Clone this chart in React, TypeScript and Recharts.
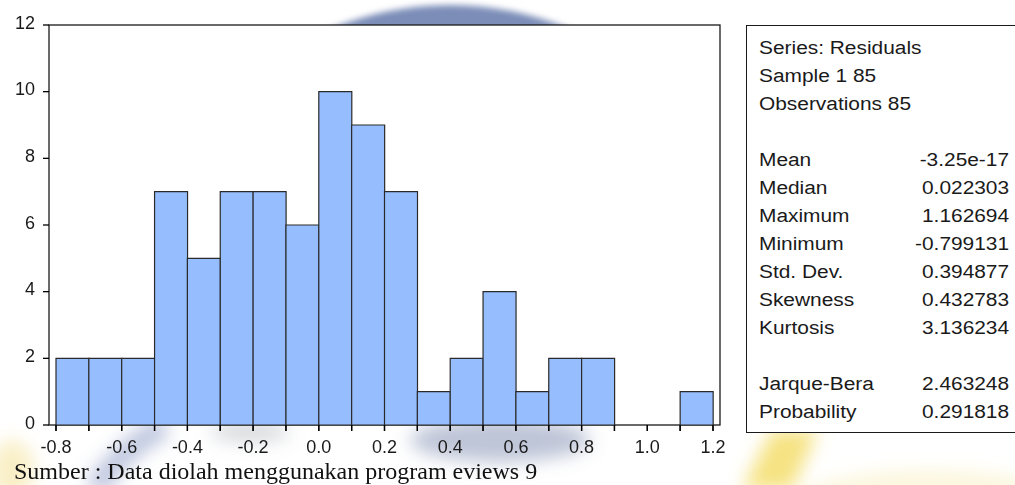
import React from 'react';
import { BarChart, Bar, XAxis, YAxis, CartesianGrid, usePlotArea } from 'recharts';

// residual histogram, bin width 0.1
const binStarts = [-0.8, -0.7, -0.6, -0.5, -0.4, -0.3, -0.2, -0.1, 0.0, 0.1, 0.2, 0.3, 0.4, 0.5, 0.6, 0.7, 0.8, 0.9, 1.0, 1.1];
const counts = [2, 2, 2, 7, 5, 7, 7, 6, 10, 9, 7, 1, 2, 4, 1, 2, 2, 0, 0, 1];
const binEdges = [-0.8, -0.7, -0.6, -0.5, -0.4, -0.3, -0.2, -0.1, 0.0, 0.1, 0.2, 0.3, 0.4, 0.5, 0.6, 0.7, 0.8, 0.9, 1.0, 1.1, 1.2];
const edgeLabels = ['-0.8', '', '-0.6', '', '-0.4', '', '-0.2', '', '0.0', '', '0.2', '', '0.4', '', '0.6', '', '0.8', '', '1.0', '', '1.2'];
const yTicks = [0, 2, 4, 6, 8, 10, 12];

const statLabels = ['Mean', 'Median', 'Maximum', 'Minimum', 'Std. Dev.', 'Skewness', 'Kurtosis'];
const statValues = ['-3.25e-17', '0.022303', '1.162694', '-0.799131', '0.394877', '0.432783', '3.136234'];
const testLabels = ['Jarque-Bera', 'Probability'];
const testValues = ['2.463248', '0.291818'];

const data = binStarts.map((s, i) => ({ bin: i, mid: s + 0.05, count: counts[i] }));

const FONT = '"Liberation Sans", Arial, sans-serif';
const INK = '#1a1a1a';
const X_PAD = 7;

function Frame() {
    const p = usePlotArea();
    if (!p) return null;
    return <rect x={p.x} y={p.y} width={p.width} height={p.height} fill="none" stroke={INK} strokeWidth={1.3} />;
}

// small marks hanging under the axis at every bin edge
function EdgeMarks() {
    const p = usePlotArea();
    if (!p) return null;
    const lo = binEdges[0];
    const hi = binEdges[binEdges.length - 1];
    const bottom = p.y + p.height;
    return (
        <g>
            {binEdges.map((e) => {
                const x = p.x + X_PAD + ((e - lo) / (hi - lo)) * (p.width - 2 * X_PAD);
                return <line key={e} x1={x} y1={bottom} x2={x} y2={bottom + 6} stroke="#000" strokeWidth={1.3} />;
            })}
        </g>
    );
}

function EdgeTick(props: any) {
    const { x, y, index } = props;
    const label = edgeLabels[index] ?? '';
    if (!label) return null;
    return (
        <text x={x} y={y + 20} textAnchor="middle" fontSize={18} fontFamily={FONT} fill={INK}>
            {label}
        </text>
    );
}

function CountTick(props: any) {
    const { x, y, payload } = props;
    return (
        <text x={x - 6} y={y + 3.5} textAnchor="end" fontSize={18} fontFamily={FONT} fill={INK}>
            {payload.value}
        </text>
    );
}

// faded logo showing through behind the figure
function Watermark() {
    return (
        <svg width={1015} height={485} style={{ position: 'absolute', left: 0, top: 0 }}>
            <defs>
                <filter id="wmSoft" x="-20%" y="-20%" width="140%" height="140%">
                    <feGaussianBlur stdDeviation="3" />
                </filter>
                <filter id="wmBlur" x="-50%" y="-50%" width="200%" height="200%">
                    <feGaussianBlur stdDeviation="9" />
                </filter>
                <clipPath id="topBand">
                    <rect x={0} y={0} width={1015} height={26} />
                </clipPath>
            </defs>
            <g clipPath="url(#topBand)">
                <circle cx={450} cy={317} r={312} fill="#7c8db8" filter="url(#wmSoft)" />
            </g>
            <g filter="url(#wmBlur)">
                <path d="M165 426 Q 120 450 95 490" fill="none" stroke="#8797c2" strokeWidth={22} opacity={0.55} />
                <ellipse cx={500} cy={440} rx={90} ry={22} fill="#6f7fa6" opacity={0.45} />
                <ellipse cx={250} cy={432} rx={40} ry={10} fill="#8a8f9c" opacity={0.35} />
                <path d="M772 430 L 818 430 L 792 490 L 742 490 Z" fill="#f3d95a" opacity={0.75} />
                <ellipse cx={930} cy={500} rx={130} ry={30} fill="#f5e7a0" opacity={0.35} />
                <ellipse cx={12} cy={470} rx={22} ry={30} fill="#f0d870" opacity={0.4} />
            </g>
        </svg>
    );
}

function StatsBox() {
    const cell = (text: string, align: 'left' | 'right') => (
        <span style={{ display: 'inline-block', transform: 'scaleX(1.16)', transformOrigin: align }}>{text}</span>
    );
    const row = (label: string, value: string, top: number) => (
        <div key={label} style={{ position: 'absolute', left: 12, right: 28, top, display: 'flex', justifyContent: 'space-between' }}>
            {cell(label, 'left')}
            {cell(value, 'right')}
        </div>
    );
    const line = (text: string, top: number) => (
        <div style={{ position: 'absolute', left: 12, top }}>{cell(text, 'left')}</div>
    );
    return (
        <div
            style={{
                position: 'absolute',
                left: 746,
                top: 25,
                width: 290,
                height: 406,
                border: `1.3px solid ${INK}`,
                fontFamily: FONT,
                fontSize: 18,
                color: INK,
                lineHeight: '20px',
                background: '#fff',
            }}
        >
            {line('Series: Residuals', 12)}
            {line('Sample 1 85', 40)}
            {line('Observations 85', 68)}
            {statLabels.map((l, i) => row(l, statValues[i], 124 + i * 28))}
            {testLabels.map((l, i) => row(l, testValues[i], 348 + i * 28))}
        </div>
    );
}

export default function App() {
    return (
        <div style={{ position: 'absolute', left: 0, top: 0, width: 1015, height: 485, background: '#fff', overflow: 'hidden' }}>
            <Watermark />
            <div style={{ position: 'absolute', left: 0, top: 0 }}>
                <BarChart width={735} height={485} data={data} barCategoryGap={0} margin={{ top: 25, right: 15, bottom: 30, left: 9 }}>
                    <CartesianGrid horizontal={false} vertical={false} fill="#fff" />
                    <XAxis xAxisId="cat" dataKey="bin" hide height={0} padding={{ left: X_PAD, right: X_PAD }} />
                    <XAxis
                        xAxisId="num"
                        dataKey="mid"
                        type="number"
                        domain={[-0.8, 1.2]}
                        ticks={binEdges}
                        interval={0}
                        padding={{ left: X_PAD, right: X_PAD }}
                        height={30}
                        axisLine={false}
                        tickLine={{ stroke: '#000', strokeWidth: 1.3 }}
                        tickSize={6}
                        tick={<EdgeTick />}
                        allowDataOverflow
                    />
                    <YAxis
                        domain={[0, 12]}
                        ticks={yTicks}
                        width={40}
                        axisLine={false}
                        tickLine={{ stroke: '#000', strokeWidth: 1.3 }}
                        tickSize={6}
                        tick={<CountTick />}
                    />
                    <Bar xAxisId="cat" dataKey="count" fill="#96BEFF" stroke="#2a2a2a" strokeWidth={1.2} isAnimationActive={false} />
                    <Frame />
                    <EdgeMarks />
                </BarChart>
            </div>
            <StatsBox />
            <div
                style={{
                    position: 'absolute',
                    left: 14,
                    top: 459,
                    fontFamily: '"Liberation Serif", "Times New Roman", serif',
                    fontSize: 24,
                    lineHeight: '24px',
                    color: '#111',
                    whiteSpace: 'nowrap',
                }}
            >
                Sumber : Data diolah menggunakan program eviews 9
            </div>
        </div>
    );
}
